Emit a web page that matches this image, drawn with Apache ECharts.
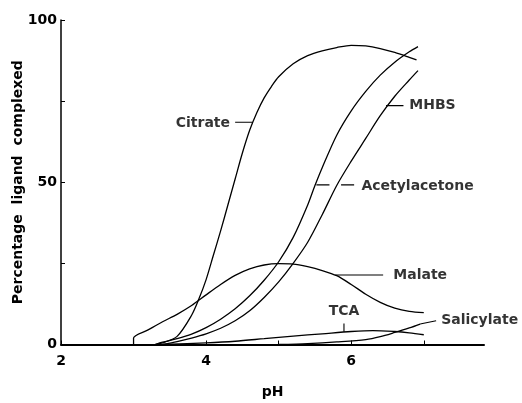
<!DOCTYPE html>
<html>
<head>
<meta charset="utf-8">
<script src="https://cdn.jsdelivr.net/npm/echarts@6/dist/echarts.min.js"></script>
<style>
  html, body { margin: 0; padding: 0; background: #fff; }
  #chart { width: 522px; height: 403px; }
</style>
</head>
<body>
<div id="chart"></div>
<script>
// Percentage of ligand complexed vs pH, one [pH, %] list per ligand
const citrate = [
  [3.3, 0], [3.4, 0.5], [3.6, 2.5], [3.8, 9], [3.9, 14], [4.0, 20], [4.1, 27.5],
  [4.2, 35], [4.3, 43], [4.4, 51], [4.5, 59], [4.6, 66], [4.7, 71.5], [4.8, 76],
  [4.9, 79.5], [5.0, 82.5], [5.2, 86.5], [5.4, 89], [5.6, 90.5], [5.8, 91.5],
  [6.0, 92.2], [6.2, 92], [6.4, 91.2], [6.6, 90], [6.8, 88.5], [6.9, 87.7]
];
const acetylacetone = [
  [3.3, 0], [3.4, 0.7], [3.6, 1.8], [3.8, 3.2], [4.0, 5.2], [4.2, 7.8], [4.4, 11],
  [4.6, 15], [4.8, 19.8], [5.0, 25.5], [5.2, 33], [5.4, 43], [5.5, 49], [5.6, 54.5],
  [5.8, 64.5], [6.0, 72], [6.2, 78], [6.4, 83], [6.6, 87], [6.8, 90.2], [6.92, 91.8]
];
const mhbs = [
  [3.4, 0], [3.6, 0.9], [3.8, 2], [4.0, 3.3], [4.2, 5], [4.4, 7.3], [4.6, 10.4],
  [4.8, 14.5], [5.0, 19.3], [5.2, 25], [5.4, 31.5], [5.6, 40], [5.8, 49], [6.0, 56.5],
  [6.2, 63.5], [6.4, 70.5], [6.6, 76.5], [6.8, 81.5], [6.92, 84.4]
];
const malate = [
  [3.0, 0], [3.0, 2], [3.2, 4.5], [3.4, 7], [3.6, 9.3], [3.8, 12], [4.0, 15.3],
  [4.2, 18.5], [4.4, 21.3], [4.6, 23.3], [4.8, 24.5], [5.0, 24.9], [5.2, 24.8],
  [5.4, 24], [5.6, 22.8], [5.8, 21.2], [6.0, 18.5], [6.2, 15.5], [6.4, 13],
  [6.6, 11.2], [6.8, 10.2], [7.0, 9.8]
];
const tca = [
  [3.4, 0], [4.0, 0.5], [4.4, 1.0], [4.8, 1.8], [5.2, 2.6], [5.6, 3.3], [6.0, 4.0],
  [6.3, 4.3], [6.6, 4.0], [6.8, 3.6], [7.0, 3.0]
];
const salicylate = [
  [5.0, 0], [5.4, 0.3], [5.8, 0.8], [6.2, 1.5], [6.4, 2.4], [6.6, 3.7], [6.8, 5.1], [6.95, 6.3]
];

// Axis ticks shown as labels
const xTickLabels = [2, 4, 6];
const yTickLabels = [0, 50, 100];

// Leader lines joining each curve to its name (pH, %)
const leaders = [
  [[4.40, 68.5], [4.64, 68.5]],
  [[6.48, 73.6], [6.72, 73.6]],
  [[5.52, 49.2], [5.70, 49.2]],
  [[5.86, 49.2], [6.04, 49.2]],
  [[5.78, 21.4], [6.44, 21.4]],
  [[5.90, 3.9], [5.90, 6.5]],
  [[6.95, 6.3], [7.17, 7.3]]
];

// Curve names and where they sit (pH, %, text alignment)
const names = [
  ['Citrate', 4.33, 68.3, 'right'],
  ['MHBS', 6.80, 73.6, 'left'],
  ['Acetylacetone', 6.14, 48.8, 'left'],
  ['Malate', 6.58, 21.4, 'left'],
  ['TCA', 5.90, 10.1, 'center'],
  ['Salicylate', 7.24, 7.3, 'left']
];

const FONT = 'DejaVu Sans';
const curveStyle = { color: '#000', width: 1.3 };

function curve(name, data) {
  return {
    name: name, type: 'line', data: data, smooth: 0.3,
    showSymbol: false, symbol: 'none', lineStyle: curveStyle,
    silent: true, z: 3
  };
}

const series = [
  curve('Citrate', citrate),
  curve('Acetylacetone', acetylacetone),
  curve('MHBS', mhbs),
  curve('Malate', malate),
  curve('TCA', tca),
  curve('Salicylate', salicylate)
];

leaders.forEach(function (seg) {
  series.push({
    type: 'line', data: seg, symbol: 'none', silent: true,
    lineStyle: { color: '#000', width: 1.1 }, z: 4
  });
});

series.push({
  type: 'scatter', symbolSize: 0, silent: true, z: 5,
  data: names.map(function (n) {
    return {
      value: [n[1], n[2]],
      label: {
        show: true, formatter: n[0], position: 'inside', align: n[3],
        verticalAlign: 'middle', offset: [0, 0],
        color: '#000', fontFamily: FONT, fontWeight: 'bold', fontSize: 14
      }
    };
  })
});

const chart = echarts.init(document.getElementById('chart'), null, { renderer: 'canvas' });
chart.setOption({
  animation: false,
  backgroundColor: '#fff',
  grid: { left: 61, top: 20, right: 38, bottom: 58.5, containLabel: false, outerBoundsMode: 'none' },
  xAxis: {
    type: 'value', min: 2, max: 7.83, interval: 1,
    name: 'pH', nameLocation: 'middle', nameGap: 41, nameMoveOverlap: false,
    nameTextStyle: { color: '#000', fontFamily: FONT, fontWeight: 'bold', fontSize: 14 },
    axisLine: { show: true, onZero: false, lineStyle: { color: '#000', width: 2 } },
    axisTick: { show: true, inside: true, length: 4, lineStyle: { color: '#000', width: 1 } },
    splitLine: { show: false },
    axisLabel: {
      margin: 10, color: '#000', fontFamily: FONT, fontWeight: 'bold', fontSize: 14,
      showMaxLabel: false,
      formatter: function (v) { return xTickLabels.indexOf(v) >= 0 ? String(v) : ''; }
    }
  },
  yAxis: {
    type: 'value', min: 0, max: 100, interval: 25,
    name: 'Percentage  ligand  complexed', nameLocation: 'middle', nameGap: 36, nameMoveOverlap: false,
    nameTextStyle: { color: '#000', fontFamily: FONT, fontWeight: 'bold', fontSize: 14 },
    axisLine: { show: true, lineStyle: { color: '#000', width: 1.5 } },
    axisTick: { show: true, inside: true, length: 4, lineStyle: { color: '#000', width: 1 } },
    splitLine: { show: false },
    axisLabel: {
      margin: 4, color: '#000', fontFamily: FONT, fontWeight: 'bold', fontSize: 14,
      formatter: function (v) { return yTickLabels.indexOf(v) >= 0 ? String(v) : ''; }
    }
  },
  series: series
});
</script>
</body>
</html>
